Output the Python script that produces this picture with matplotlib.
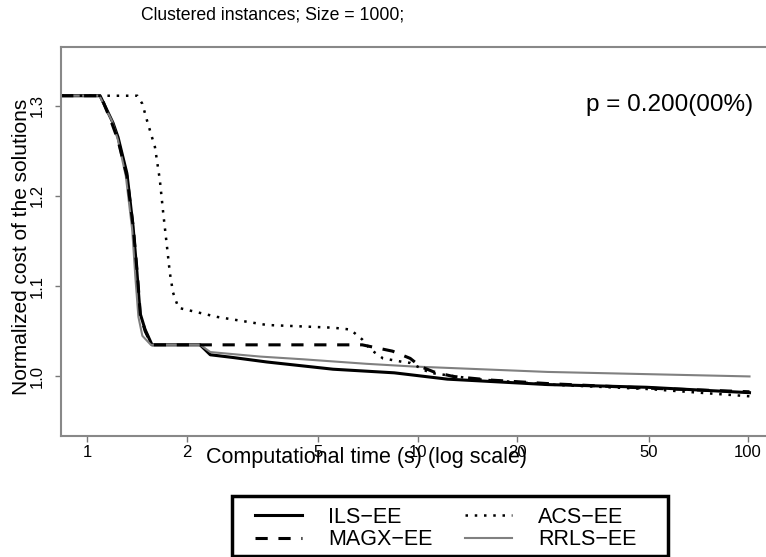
import matplotlib
matplotlib.use("Agg")
import matplotlib.pyplot as plt
from matplotlib.lines import Line2D
from matplotlib.patches import Rectangle

plt.rcParams['font.family'] = ['Liberation Sans', 'DejaVu Sans']

# values
ils_t = [0.835, 1.095, 1.198, 1.241, 1.32, 1.378, 1.416, 1.447, 1.498, 1.572, 2.198,
         2.36, 2.76, 3.5, 4.41, 5.55, 8.5, 12.3, 24.7, 49.3, 101]
ils_v = [1.311, 1.311, 1.281, 1.265, 1.225, 1.166, 1.115, 1.070, 1.052, 1.035, 1.035,
         1.024, 1.021, 1.016, 1.012, 1.008, 1.004, 0.997, 0.991, 0.988, 0.982]

magx_t = [0.835, 1.10, 1.19, 1.24, 1.32, 1.38, 1.42, 1.45, 1.50, 1.57, 6.8, 8.4, 9.5,
          10.2, 11.2, 12.8, 16.6, 25, 50, 101]
magx_v = [1.311, 1.311, 1.280, 1.262, 1.222, 1.165, 1.113, 1.068, 1.050, 1.035, 1.035,
          1.028, 1.020, 1.011, 1.005, 1.000, 0.996, 0.992, 0.987, 0.983]

acs_t = [0.835, 1.42, 1.47, 1.52, 1.605, 1.66, 1.70, 1.745, 1.78, 1.82, 1.89, 2.47, 3.5,
         5.55, 6.25, 6.45, 6.8, 7.2, 7.86, 9.05, 9.5, 10.9, 15, 25, 50, 101]
acs_v = [1.311, 1.311, 1.302, 1.283, 1.254, 1.218, 1.181, 1.144, 1.115, 1.093, 1.076,
         1.066, 1.057, 1.054, 1.052, 1.048, 1.041, 1.030, 1.020, 1.016, 1.015, 1.004,
         0.997, 0.991, 0.986, 0.978]

rrls_t = [0.835, 1.09, 1.19, 1.24, 1.31, 1.37, 1.40, 1.43, 1.47, 1.56, 2.198, 2.36,
          3.34, 4.5, 7.0, 9.7, 24.7, 101]
rrls_v = [1.311, 1.311, 1.283, 1.262, 1.222, 1.162, 1.110, 1.066, 1.045, 1.035, 1.035,
          1.027, 1.022, 1.019, 1.014, 1.011, 1.005, 1.000]

names = ['ILS\u2212EE', 'MAGX\u2212EE', 'ACS\u2212EE', 'RRLS\u2212EE']
xticks = [1, 2, 5, 10, 20, 50, 100]
yticks = [1.0, 1.1, 1.2, 1.3]

fig = plt.figure(figsize=(7.66, 5.57), dpi=100)
ax = fig.add_axes([61/766, 1-436/557, 713/766, 389/557])

ax.plot(ils_t, ils_v, color='black', lw=2.2)
ax.plot(rrls_t, rrls_v, color='#808080', lw=1.5)
ax.plot(magx_t, magx_v, color='black', lw=2.2, dashes=(4, 3.5))
ax.plot(acs_t, acs_v, color='black', lw=1.8, dashes=(1, 2.7))

ax.set_xscale('log')
ax.set_xlim(0.834, 119.8)
ax.set_ylim(0.934, 1.365)
ax.set_xticks(xticks)
ax.set_xticklabels([str(x) for x in xticks])
ax.minorticks_off()
ax.set_yticks(yticks)
ax.set_yticklabels(['%.1f' % y for y in yticks], rotation=90, va='center')
ax.tick_params(axis='both', direction='out', length=4, width=1, color='#777777', labelsize=12)
ax.tick_params(axis='x', pad=2.5)
ax.tick_params(axis='y', pad=8)
for s in ax.spines.values():
    s.set_color('#888888')
    s.set_linewidth(1.5)

ax.set_xlabel('Computational time (s) (log scale)', fontsize=15.5)
ax.xaxis.set_label_coords(0.428, -0.029)
ax.xaxis.label.set_va('top')
ax.set_ylabel('Normalized cost of the solutions', fontsize=15)
ax.yaxis.set_label_coords(-0.042, 0.486)

fig.text(273/766, 1-15/557, 'Clustered instances; Size = 1000;', ha='center', va='center', fontsize=12.7)
fig.text(753/766, 1-105/557, 'p = 0.200(00%)', ha='right', va='center', fontsize=17.5)

handles = [Line2D([], [], color='black', lw=2.2),
           Line2D([], [], color='black', lw=2.2, dashes=(4, 3.5)),
           Line2D([], [], color='black', lw=1.8, dashes=(1, 2.7)),
           Line2D([], [], color='#808080', lw=1.5)]
leg = fig.legend(handles, names, ncol=2, loc='upper left',
                 bbox_to_anchor=(255/766, 1-507/557),
                 fontsize=15.5, handlelength=2.2, handletextpad=1.2, columnspacing=1.5,
                 labelspacing=0.05, borderpad=0, borderaxespad=0, frameon=False)

# legend box drawn separately so its padding matches the reference
fig.patches.append(Rectangle((232/766, 1-556/557), 436/766, 60/557, transform=fig.transFigure,
                             fill=False, lw=2.5, edgecolor='black'))

fig.savefig('out.png', dpi=100)
